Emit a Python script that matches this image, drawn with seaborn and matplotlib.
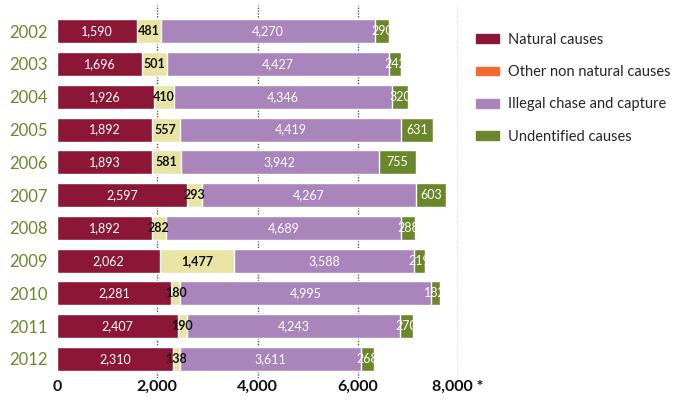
import pandas as pd
import matplotlib
matplotlib.use("Agg")
import matplotlib.pyplot as plt
import matplotlib.patches as mpatches
import seaborn as sns

# Data
years = ["2002", "2003", "2004", "2005", "2006", "2007", "2008", "2009", "2010", "2011", "2012"]
natural = [1590, 1696, 1926, 1892, 1893, 2597, 1892, 2062, 2281, 2407, 2310]
other = [481, 501, 410, 557, 581, 293, 282, 1477, 180, 190, 138]
illegal = [4270, 4427, 4346, 4419, 3942, 4267, 4689, 3588, 4995, 4243, 3611]
undentified = [290, 242, 320, 631, 755, 603, 288, 219, 182, 270, 268]

series_names = ["Natural causes", "Other non natural causes",
                "Illegal chase and capture", "Undentified causes"]
bar_colors = ["#8c1635", "#e8e4a6", "#a985bb", "#6a872c"]
legend_colors = ["#8c1635", "#f26a30", "#a985bb", "#6a872c"]
text_colors = ["white", "#111111", "white", "white"]
text_weights = ["normal", "bold", "normal", "normal"]
xticks = [0, 2000, 4000, 6000, 8000]
xtick_labels = ["0", "2,000", "4,000", "6,000", "8,000 *"]

df = pd.DataFrame({"year": years, "natural": natural, "other": other,
                   "illegal": illegal, "undentified": undentified})
cols = ["natural", "other", "illegal", "undentified"]
cum = df[cols].cumsum(axis=1)

sns.set_style("white")
plt.rcParams["font.family"] = ["Lato", "DejaVu Sans"]

fig = plt.figure(figsize=(6.78, 4.0), dpi=100)
ax = fig.add_axes([57 / 678, 22 / 400, 401 / 678, 373 / 400])

# stacked bars: draw cumulative totals from the back
for i in range(len(cols) - 1, -1, -1):
    sns.barplot(x=cum[cols[i]], y=df["year"], order=years, orient="h",
                color=bar_colors[i], width=0.73, saturation=1, ax=ax, zorder=2)

# segment labels
for i, c in enumerate(cols):
    for j in range(len(years)):
        v = df[c][j]
        left = cum[c][j] - v
        ax.text(left + v / 2, j, f"{v:,}", ha="center", va="center",
                color=text_colors[i], fontsize=9, fontweight=text_weights[i], zorder=3)

ax.set_xlim(0, 8000)
ax.set_ylim(10.58, -0.8)
ax.set_xticks(xticks)
ax.set_xticklabels(xtick_labels, fontsize=11.5, fontweight="bold", color="#111111")
ax.tick_params(axis="both", length=0)
ax.tick_params(axis="x", pad=1.5)
ax.tick_params(axis="y", pad=7, labelsize=12, labelcolor="#6a872c")
ax.set_xlabel("")
ax.set_ylabel("")
for s in ax.spines.values():
    s.set_visible(False)
for x in xticks[1:]:
    ax.axvline(x, color="#555555", linestyle=(0, (1, 1)), linewidth=1, zorder=0)

handles = [mpatches.Patch(color=c) for c in legend_colors]
fig.legend(handles, series_names, loc="upper left", bbox_to_anchor=(470 / 678, 1 - 27 / 400),
           frameon=False, fontsize=10.5, handlelength=1.6, handleheight=0.55,
           labelspacing=1.25, handletextpad=0.6, borderaxespad=0)

fig.savefig("out.png", dpi=100)
